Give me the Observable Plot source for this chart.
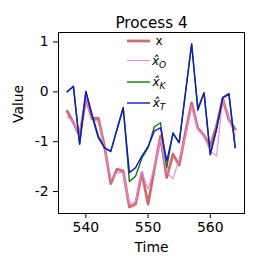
<!DOCTYPE html>
<html>
<head>
<meta charset="utf-8">
<script src="https://cdn.jsdelivr.net/npm/d3@7"></script>
<script src="https://cdn.jsdelivr.net/npm/@observablehq/plot@0.6"></script>
<style>
  html, body { margin: 0; padding: 0; background: #fff; }
  svg { font-family: "DejaVu Sans", sans-serif; }
</style>
</head>
<body>
<div id="chart"></div>
<script>
const title = "Process 4";
const time = [537,538,539,540,541,542,543,544,545,546,547,548,549,550,551,552,553,554,555,556,557,558,559,560,561,562,563,564];
const xTrue = [-0.39,-0.62,-0.89,-0.13,-0.54,-0.53,-1.09,-1.84,-1.55,-1.59,-2.31,-2.25,-1.62,-2.25,-1.55,-0.89,-1.72,-1.25,-1.47,-0.82,-0.22,-0.73,-0.88,-1.08,-0.69,-0.14,-0.56,-0.75];
const xO = [-0.5,-0.6,-0.9,-0.1,-0.55,-0.6,-1.1,-1.76,-1.62,-1.62,-2.25,-2.2,-1.6,-1.95,-1.5,-0.95,-1.6,-1.75,-1.35,-0.9,-0.29,-0.75,-0.9,-1.19,-1.29,-0.15,-0.55,-0.89];
const xK = [0.0,0.11,-1.05,0.01,-0.45,-0.88,-1.12,-1.2,-0.75,-0.31,-1.8,-1.69,-1.33,-1.12,-0.7,-0.62,-1.52,-0.82,-1.02,-0.03,0.96,-0.33,-0.02,-1.27,-0.75,-0.11,-0.03,-1.12];
const xT = [0.0,0.11,-1.05,0.01,-0.49,-0.92,-1.13,-1.19,-0.76,-0.33,-1.62,-1.52,-1.29,-1.1,-0.79,-0.72,-1.39,-0.84,-1.02,-0.03,0.96,-0.37,-0.02,-1.25,-0.75,-0.12,-0.05,-1.12];
const xTicks = [540, 550, 560];
const yTicks = [-2, -1, 0, 1];

const series = [
  {key: "x", vals: xTrue, color: "#cd5c5c", width: 2.8, opacity: 0.9},
  {key: "O", vals: xO, color: "#ee82ee", width: 1.1, opacity: 1},
  {key: "K", vals: xK, color: "#117a11", width: 1.4, opacity: 1},
  {key: "T", vals: xT, color: "#1515d0", width: 1.4, opacity: 1}
];

const marks = [];
for (const s of series) {
  const rows = time.map((t, i) => ({t, v: s.vals[i]}));
  marks.push(Plot.line(rows, {x: "t", y: "v", stroke: s.color, strokeWidth: s.width, strokeOpacity: s.opacity, strokeLinejoin: "round", curve: "linear"}));
}

const chart = Plot.plot({
  width: 256,
  height: 272,
  marginLeft: 58,
  marginRight: 12,
  marginTop: 32,
  marginBottom: 59,
  style: {fontFamily: "DejaVu Sans", fontSize: "13.9px", color: "#000", background: "#fff"},
  x: {domain: [535.6, 565.5]},
  y: {domain: [-2.44, 1.19]},
  marks: [
    ...marks,
    Plot.frame({stroke: "#000", strokeWidth: 1}),
    Plot.axisX({ticks: xTicks, tickSize: 5, tickPadding: 4, tickFormat: d => String(d), label: null, fontSize: 13.9}),
    Plot.axisY({ticks: yTicks, tickSize: 5, tickPadding: 5, tickFormat: d => String(d), label: null, fontSize: 13.9}),
    Plot.text([title], {frameAnchor: "top", dy: -15, fontSize: 15.2, text: d => d}),
    Plot.text(["Time"], {frameAnchor: "bottom", dy: 38, fontSize: 13.9, text: d => d}),
    Plot.text(["Value"], {frameAnchor: "left", dx: -40, rotate: -90, fontSize: 13.9, text: d => d})
  ]
});
document.getElementById("chart").appendChild(chart);

// Legend (upper center, no frame)
const svg = d3.select(chart);
const lg = svg.append("g").attr("font-family", "DejaVu Sans").attr("font-size", 12);
const rowsY = [41, 60.5, 82, 103];
series.forEach((s, i) => {
  const y = rowsY[i];
  lg.append("line").attr("x1", 127).attr("x2", 150).attr("y1", y).attr("y2", y)
    .attr("stroke", s.color).attr("stroke-width", s.width).attr("stroke-opacity", s.opacity);
  if (s.key === "x") {
    lg.append("text").attr("x", 159).attr("y", y).attr("dy", "0.35em").text("x");
  } else {
    const t = lg.append("text").attr("x", 159).attr("y", y).attr("dy", "0.35em");
    t.append("tspan").attr("font-style", "italic").text("x\u0302");
    t.append("tspan").attr("font-style", "italic").attr("font-size", 9).attr("dy", "3").text(s.key);
  }
});
</script>
</body>
</html>
